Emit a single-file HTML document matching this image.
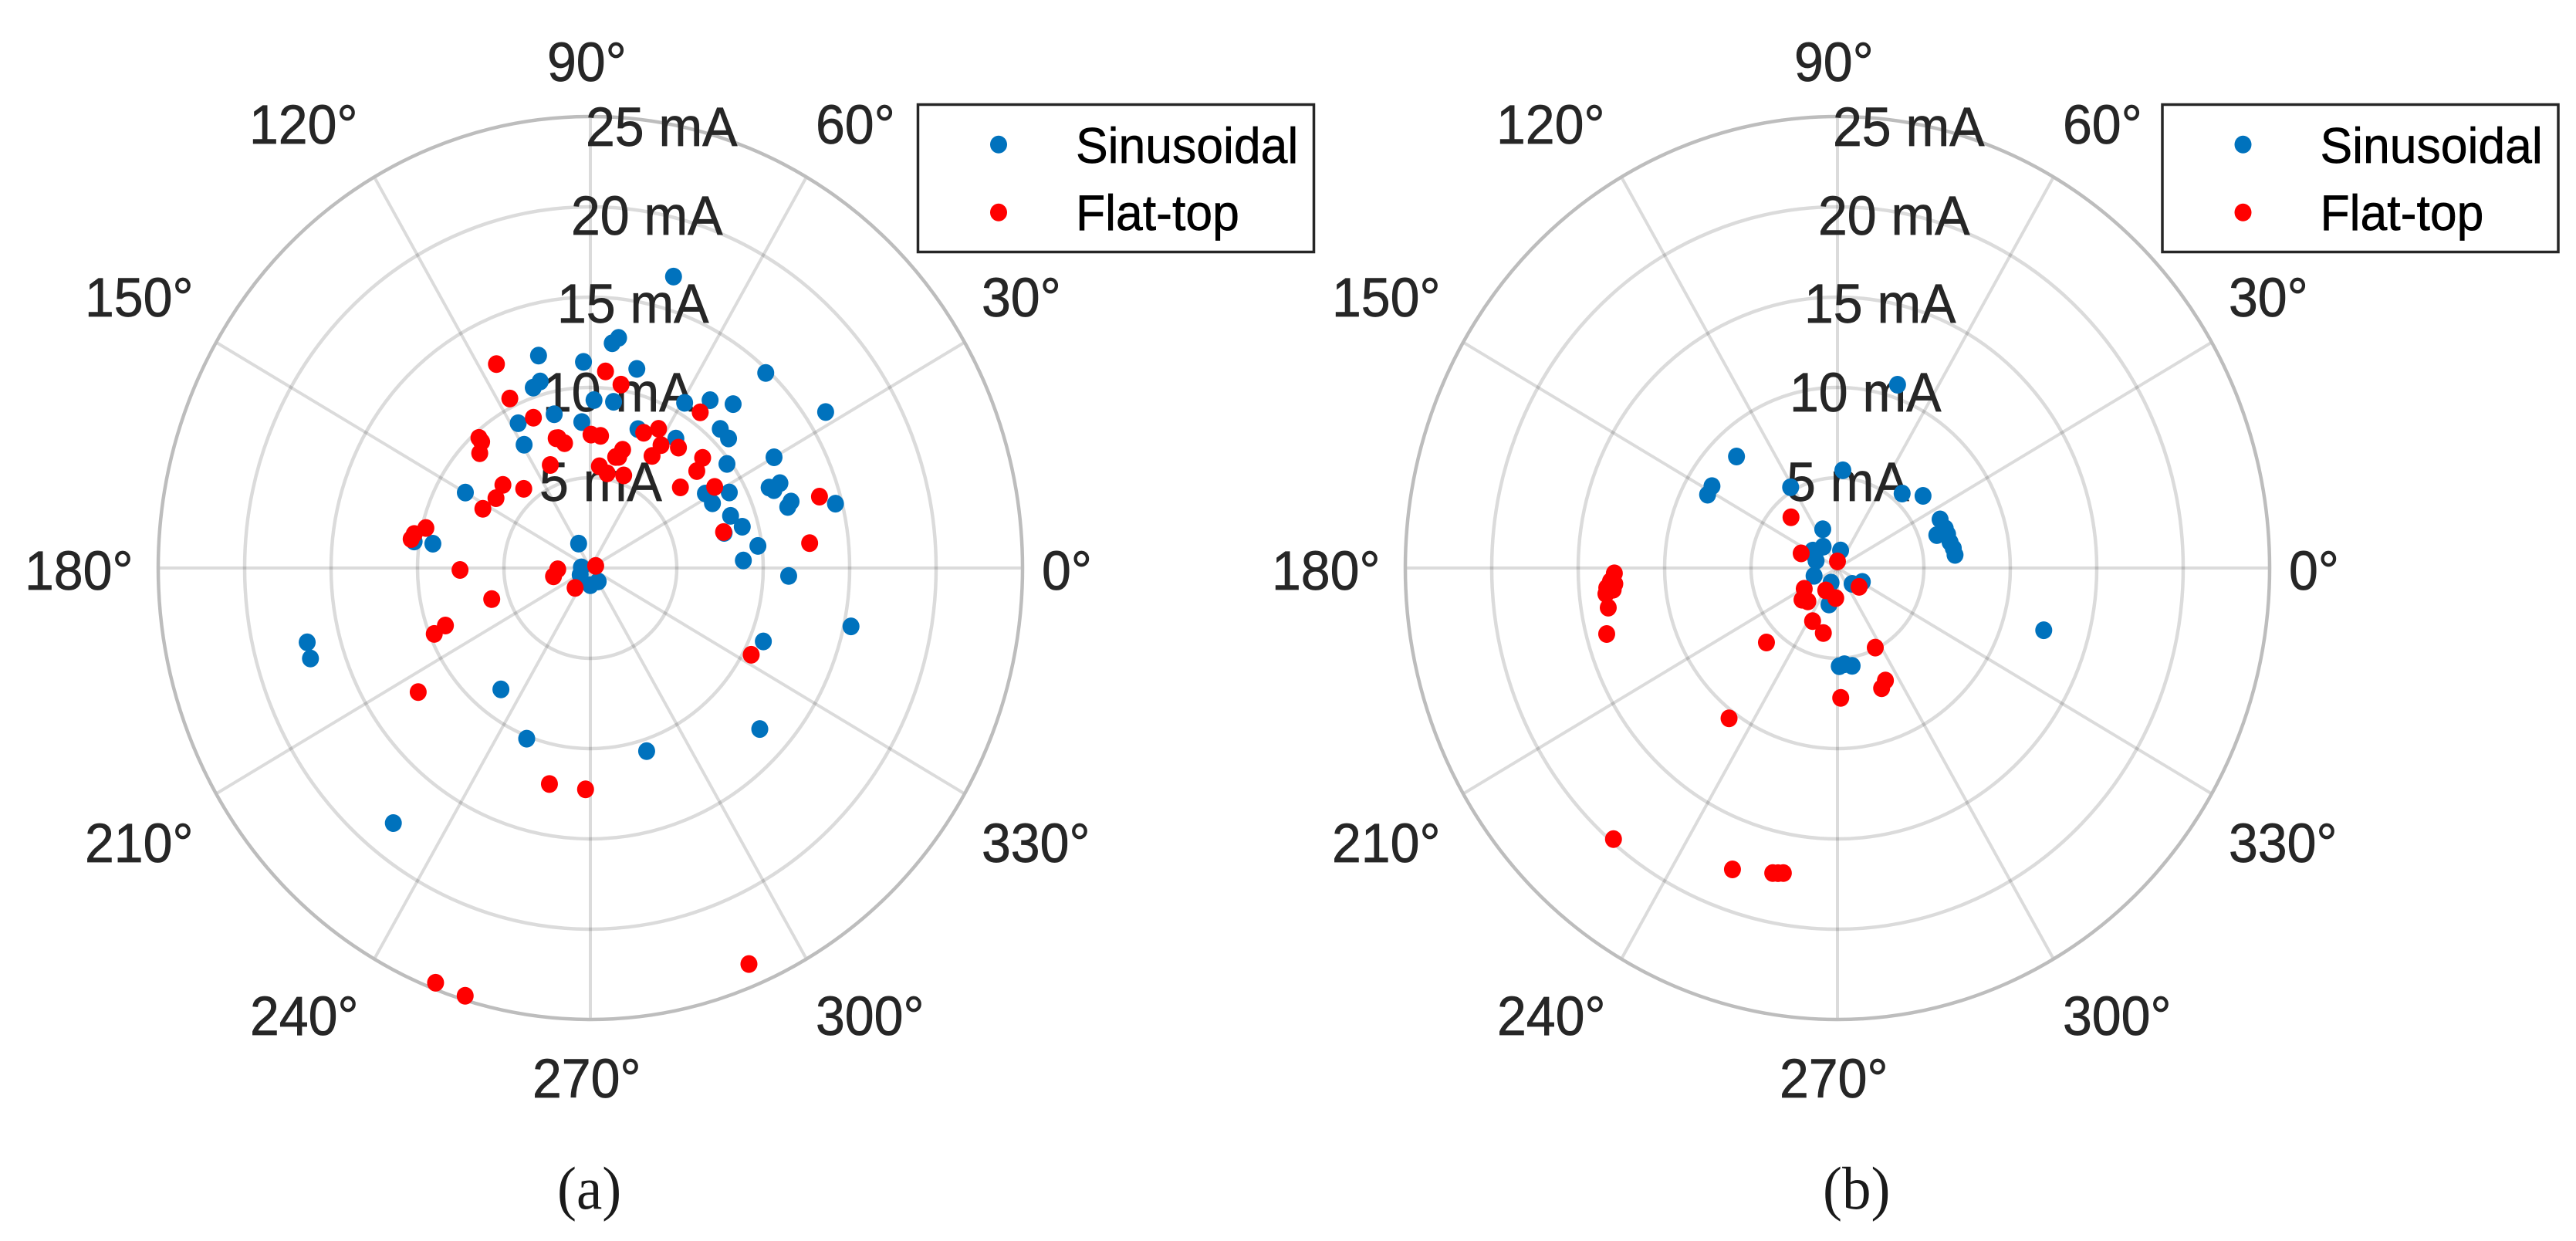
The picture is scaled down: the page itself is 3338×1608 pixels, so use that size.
<!DOCTYPE html>
<html lang="en">
<head>
<meta charset="utf-8">
<title>Polar scatter of current harmonics: sinusoidal and flat-top</title>
<style>
html,body{margin:0;padding:0;background:#fff;}
svg{display:block;}
text{font-family:"Liberation Sans",Arial,sans-serif;}
.tick{font-size:68px;fill:#262626;stroke:#262626;stroke-width:0.7px;}
.leg{font-size:62.5px;fill:#000;stroke:#000;stroke-width:0.6px;}
.cap{font-family:"Liberation Serif","Times New Roman",serif;font-size:75px;fill:#1a1a1a;}
</style>
</head>
<body>
<svg id="fig" xmlns="http://www.w3.org/2000/svg" width="3338" height="1608" viewBox="0 0 3338 1608">
<g>
  <g id="grid-a"></g>
  <g>
    <text class="tick" transform="translate(709,105) scale(1,1.0446)">90°</text>
    <text class="tick" transform="translate(323,186) scale(1,1.0446)">120°</text>
    <text class="tick" transform="translate(1057,186) scale(1,1.0446)">60°</text>
    <text class="tick" transform="translate(110,410) scale(1,1.0446)">150°</text>
    <text class="tick" transform="translate(1272,410) scale(1,1.0446)">30°</text>
    <text class="tick" transform="translate(32,764) scale(1,1.0446)">180°</text>
    <text class="tick" transform="translate(1350,764) scale(1,1.0446)">0°</text>
    <text class="tick" transform="translate(110,1117) scale(1,1.0446)">210°</text>
    <text class="tick" transform="translate(1272,1117) scale(1,1.0446)">330°</text>
    <text class="tick" transform="translate(324,1341) scale(1,1.0446)">240°</text>
    <text class="tick" transform="translate(1057,1341) scale(1,1.0446)">300°</text>
    <text class="tick" transform="translate(690,1422) scale(1,1.0446)">270°</text>
  </g>
  <g>
    <text class="tick" transform="translate(759,189) scale(1,1.0446)">25 mA</text>
    <text class="tick" transform="translate(740,304) scale(1,1.0446)">20 mA</text>
    <text class="tick" transform="translate(722,418) scale(1,1.0446)">15 mA</text>
    <text class="tick" transform="translate(703,533) scale(1,1.0446)">10 mA</text>
    <text class="tick" transform="translate(699,649) scale(1,1.0446)">5 mA</text>
  </g>
  <g id="points-a"></g>
  <g>
    <rect x="1189.5" y="135.5" width="513" height="191" fill="#fff" stroke="#262626" stroke-width="3.5"/>
    <ellipse cx="1294" cy="187.3" rx="11" ry="11.5" fill="#0072BD"/>
    <text class="leg" transform="translate(1394,211) scale(1,1.0446)">Sinusoidal</text>
    <ellipse cx="1294" cy="275.3" rx="11" ry="11.5" fill="#FF0000"/>
    <text class="leg" transform="translate(1394,298) scale(1,1.0446)">Flat-top</text>
  </g>
  <text class="cap" transform="translate(722,1566) scale(1,1.0446)">(a)</text>
</g>
<g transform="translate(1616,0)">
  <g id="grid-b"></g>
  <g>
    <text class="tick" transform="translate(709,105) scale(1,1.0446)">90°</text>
    <text class="tick" transform="translate(323,186) scale(1,1.0446)">120°</text>
    <text class="tick" transform="translate(1057,186) scale(1,1.0446)">60°</text>
    <text class="tick" transform="translate(110,410) scale(1,1.0446)">150°</text>
    <text class="tick" transform="translate(1272,410) scale(1,1.0446)">30°</text>
    <text class="tick" transform="translate(32,764) scale(1,1.0446)">180°</text>
    <text class="tick" transform="translate(1350,764) scale(1,1.0446)">0°</text>
    <text class="tick" transform="translate(110,1117) scale(1,1.0446)">210°</text>
    <text class="tick" transform="translate(1272,1117) scale(1,1.0446)">330°</text>
    <text class="tick" transform="translate(324,1341) scale(1,1.0446)">240°</text>
    <text class="tick" transform="translate(1057,1341) scale(1,1.0446)">300°</text>
    <text class="tick" transform="translate(690,1422) scale(1,1.0446)">270°</text>
  </g>
  <g>
    <text class="tick" transform="translate(759,189) scale(1,1.0446)">25 mA</text>
    <text class="tick" transform="translate(740,304) scale(1,1.0446)">20 mA</text>
    <text class="tick" transform="translate(722,418) scale(1,1.0446)">15 mA</text>
    <text class="tick" transform="translate(703,533) scale(1,1.0446)">10 mA</text>
    <text class="tick" transform="translate(699,649) scale(1,1.0446)">5 mA</text>
  </g>
  <g id="points-b"></g>
  <g transform="translate(-3.5,0)">
    <rect x="1189.5" y="135.5" width="513" height="191" fill="#fff" stroke="#262626" stroke-width="3.5"/>
    <ellipse cx="1294" cy="187.3" rx="11" ry="11.5" fill="#0072BD"/>
    <text class="leg" transform="translate(1394,211) scale(1,1.0446)">Sinusoidal</text>
    <ellipse cx="1294" cy="275.3" rx="11" ry="11.5" fill="#FF0000"/>
    <text class="leg" transform="translate(1394,298) scale(1,1.0446)">Flat-top</text>
  </g>
  <text class="cap" transform="translate(746,1566) scale(1,1.0446)">(b)</text>
</g>
</svg>
<script>
// Axis ticks
const ringValues = [5, 10, 15, 20, 25];
const spokeAngles = [0, 30, 60, 90, 120, 150, 180, 210, 240, 270, 300, 330];

// Panel (a): angles in degrees, magnitudes in mA
const aSinusoidalTheta = [104.3,82.7,84.2,92,76.3,105.7,108.3,88.7,81.7,103.8,117.5,93.5,119.3,70.3,73.4,46.8,59.2,53.3,47.7,32.4,45.7,41.9,55.4,30,36.1,23.3,22.1,23.2,17.6,16.5,31.8,26.9,27.5,19.6,14.6,14.1,7.2,2.7,357.8,337.9,14.1,150,171.6,171.8,116.7,175.6,212.8,270,301.3,194.1,197.2,232.4,248.7,287.8,317.7,231.1,347.9];
const aSinusoidalCurrent = [12.14,12.85,12.51,11.42,11.35,10.73,10.52,9.3,9.3,8.77,9.04,8.1,7.83,8.17,16.84,14.82,10.65,11.59,12.27,16.12,10.76,10.74,8.71,12.27,9.78,11.26,11.46,11.93,12.18,11.91,7.83,7.92,9.06,8.61,9.08,7.98,9.77,8.86,11.48,10.8,14.62,8.35,9.21,10.3,1.51,0.52,0.7,0.95,0.87,16.89,16.95,8.48,10.14,10.65,13.25,18.15,15.42];
const aFlatTopTheta = [115.7,85.4,80.1,116.4,111.6,131.8,132,135.2,89.7,85.4,105.4,104.5,102.2,74.1,75.1,112.1,84.7,53.6,67.6,62.9,59,52.6,60.1,43.2,41.1,40.6,32,16.6,6.2,14.5,332.7,79.5,69.4,137.7,144.7,152.2,131.3,166.9,169.5,171.2,180.8,196.8,182.1,192.2,21,231.3,200.8,202,214.6,258.8,268.7,292.7,248.7,253,76.6];
const aFlatTopCurrent = [12.53,10.92,10.31,10.48,8.95,9.67,9.4,9.02,7.39,7.34,7.45,7.43,7.07,6.81,6.37,6.16,5.66,10.71,8.1,8.66,7.94,8.39,7.16,8.91,8.17,6.86,8.48,13.83,12.76,7.96,10.47,5.33,5.48,6.84,6.69,7.03,5.84,9.77,10.36,10.49,7.54,5.96,1.89,2.18,0.33,1.41,8.97,9.74,12.1,12.19,12.26,23.77,24.65,24.77,6.32];

// Panel (b): angles in degrees, magnitudes in mA
const bSinusoidalTheta = [71.1,133.4,148,151.6,121.2,86.7,47.8,38.9,24.4,19.4,17.6,16.4,12.4,9.3,6.1,111.6,125.1,145.7,79.5,162.1,197.7,245.4,314,331.9,256.4,271.1,274.3,278.9,343.9,152.6];
const bSinusoidalCurrent = [10.73,8.5,8.56,8.54,5.23,5.42,5.57,6.36,6.52,6.61,6.03,6.64,6.67,6.79,6.84,2.31,1.44,1.72,0.99,1.3,1.42,0.89,1.22,1.63,2.08,5.44,5.34,5.48,12.42,1.48];
const bFlatTopTheta = [133.7,158.9,90,210.9,220.6,227.2,241.3,266.6,320.2,243.9,257.2,225.1,296.4,294,291,271.5,233,229.2,250,257.5,259.5,258.5,181.3,183.2,183.9,184.7,185.3,186.1,189.4,195.3];
const bFlatTopCurrent = [3.89,2.25,0.37,2.24,2.7,2.52,1.41,1.67,1.63,3.27,3.69,5.82,4.92,6.82,7.13,7.19,10.42,19.83,17.76,17.3,17.18,17.24,12.91,13.15,12.91,13.39,13.03,13.47,13.44,13.84];

const SVG_NS = 'http://www.w3.org/2000/svg';
const CX = 765;
const CY = 736;
const PX_PER_MA_X = 22.4;
const PX_PER_MA_Y = 23.4;

function xOf(theta, current) {
  return CX + current * PX_PER_MA_X * Math.cos(theta * Math.PI / 180);
}
function yOf(theta, current) {
  return CY - current * PX_PER_MA_Y * Math.sin(theta * Math.PI / 180);
}

function drawGrid(groupId) {
  const group = document.getElementById(groupId);
  const maxRing = Math.max.apply(null, ringValues);
  spokeAngles.forEach(function (angle) {
    const line = document.createElementNS(SVG_NS, 'line');
    line.setAttribute('x1', xOf(angle, 0));
    line.setAttribute('y1', yOf(angle, 0));
    line.setAttribute('x2', xOf(angle, maxRing));
    line.setAttribute('y2', yOf(angle, maxRing));
    line.setAttribute('stroke', '#000');
    line.setAttribute('stroke-opacity', '0.14');
    line.setAttribute('stroke-width', '4');
    
    
    group.appendChild(line);
  });
  ringValues.forEach(function (value) {
    const ring = document.createElementNS(SVG_NS, 'ellipse');
    const isOuter = value === maxRing;
    ring.setAttribute('cx', CX);
    ring.setAttribute('cy', CY);
    ring.setAttribute('rx', value * PX_PER_MA_X);
    ring.setAttribute('ry', value * PX_PER_MA_Y);
    ring.setAttribute('fill', 'none');
    ring.setAttribute('stroke', isOuter ? '#bdbdbd' : '#000');
    ring.setAttribute('stroke-opacity', isOuter ? '1' : '0.14');
    ring.setAttribute('stroke-width', isOuter ? '4.5' : '4.5');
    
    
    group.appendChild(ring);
  });
}

function drawSeries(groupId, thetas, currents, color, seriesName) {
  const group = document.getElementById(groupId);
  thetas.forEach(function (theta, i) {
    const dot = document.createElementNS(SVG_NS, 'ellipse');
    dot.setAttribute('cx', xOf(theta, currents[i]));
    dot.setAttribute('cy', yOf(theta, currents[i]));
    dot.setAttribute('rx', 11);
    dot.setAttribute('ry', 11.5);
    dot.setAttribute('fill', color);
    
    
    group.appendChild(dot);
  });
}

drawGrid('grid-a');
drawGrid('grid-b');
drawSeries('points-a', aSinusoidalTheta, aSinusoidalCurrent, '#0072BD', 'sinusoidal-point');
drawSeries('points-a', aFlatTopTheta, aFlatTopCurrent, '#FF0000', 'flat-top-point');
drawSeries('points-b', bSinusoidalTheta, bSinusoidalCurrent, '#0072BD', 'sinusoidal-point');
drawSeries('points-b', bFlatTopTheta, bFlatTopCurrent, '#FF0000', 'flat-top-point');
</script>
</body>
</html>
